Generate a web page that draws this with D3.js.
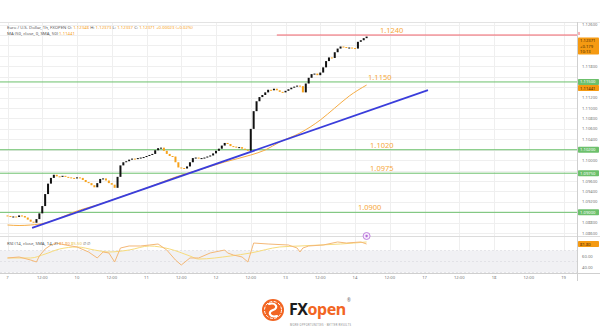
<!DOCTYPE html>
<html>
<head>
<meta charset="utf-8">
<script src="https://cdn.jsdelivr.net/npm/d3@7"></script>
<style>
  body { margin: 0; background: #fff; }
  svg { display: block; font-family: "Noto Sans", sans-serif; }
</style>
</head>
<body>
<svg width="600" height="330"></svg>
<script>
// hourly closes, hour 0 = Jul 7 00:00 (weekend skipped)
const closes = [
  1.0893, 1.0891, 1.0892, 1.0891, 1.0894, 1.0893, 1.0890, 1.0886, 1.0882, 1.0880, 1.0887, 1.0898,
  1.0912, 1.0935, 1.0955, 1.0966, 1.0972, 1.0969, 1.0968, 1.0970, 1.0968, 1.0967, 1.0966, 1.0965,
  1.0967, 1.0966, 1.0962, 1.0958, 1.0956, 1.0952, 1.0948, 1.0956, 1.0964, 1.0965, 1.0961, 1.0956,
  1.0953, 1.0947, 1.0968, 1.0990, 1.0996, 1.0998, 1.1001, 1.1003, 1.1002, 1.1004, 1.1005, 1.1006,
  1.1008, 1.1010, 1.1012, 1.1019, 1.1023, 1.1024, 1.1018, 1.1012, 1.1008, 1.1007, 1.0996, 1.0986,
  1.0985, 1.0984, 1.0988, 1.0996, 1.1004, 1.1005, 1.1003, 1.1004, 1.1005, 1.1007, 1.1009, 1.1013,
  1.1018, 1.1022, 1.1028, 1.1033, 1.1031, 1.1027, 1.1026, 1.1024, 1.1025, 1.1022, 1.1020, 1.1018,
  1.1060, 1.1094, 1.1113, 1.1121, 1.1125, 1.1130, 1.1135, 1.1134, 1.1137, 1.1134, 1.1131, 1.1130,
  1.1133, 1.1136, 1.1139, 1.1141, 1.1143, 1.1142, 1.1130, 1.1147, 1.1158, 1.1165, 1.1166, 1.1163,
  1.1168, 1.1178, 1.1190, 1.1197, 1.1196, 1.1207, 1.1214, 1.1218, 1.1217, 1.1216, 1.1216, 1.1215,
  1.1214, 1.1227, 1.1230, 1.1234, 1.1237
];
const firstOpen = 1.0894;

// SMA 50
const maHours = [0, 4, 8, 13, 18, 23, 32, 40, 49, 58, 66, 75, 84, 89, 94, 101, 108, 113, 118, 124];
const maValues = [1.08757, 1.08747, 1.08757, 1.08795, 1.08891, 1.09006, 1.09159, 1.09313, 1.09485, 1.09677,
  1.09811, 1.09965, 1.10099, 1.10195, 1.10348, 1.10521, 1.10770, 1.11000, 1.11230, 1.11441];

// RSI and its SMA
const rsiHours = [0, 4, 8, 10, 11, 13, 15, 17, 20, 24, 28, 31, 33, 35, 37, 39, 42, 46, 49, 52, 55, 58, 60, 63,
  66, 70, 75, 76, 78, 81, 83, 85, 90, 97, 100, 101, 102, 104, 109, 114, 117, 122, 124];
const rsiValues = [56.4, 58.2, 52.7, 49.1, 60, 72.7, 80, 83.6, 80, 76.4, 67.3, 56.4, 67.3, 65.5, 49.1, 74.5, 78.2,
  78.2, 80, 81.8, 70.9, 52.7, 43.6, 56.4, 56.4, 65.5, 70.9, 65.5, 61.8, 58.2, 49.1, 83.6, 81.8, 80, 74.5, 67.3,
  74.5, 78.2, 80, 85.5, 83.6, 85.5, 81.8];
const rsiSmaHours = [0, 8, 13, 18, 24, 30, 35, 42, 49, 56, 63, 66, 77, 84, 94, 101, 108, 115, 124];
const rsiSmaValues = [56.4, 56.4, 63.6, 72.7, 76.4, 70.9, 67.3, 70.9, 78.2, 72.7, 60, 54.5, 60, 65.5, 76.4, 78.2,
  80, 81.8, 85.5];

// horizontal levels
const levels = [1.1240, 1.1150, 1.1020, 1.0975, 1.0900];
const levelNames = ["1.1240", "1.1150", "1.1020", "1.0975", "1.0900"];
const levelLabelHours = [128.6, 124.5, 125.2, 125.2, 121];

// trendline (hour, price)
const trendHours = [8.5, 145.2];
const trendPrices = [1.0870, 1.11345];

// time axis
const tickHours = d3.range(0, 193, 12);
const tickLabels = ["7", "12:00", "10", "12:00", "11", "12:00", "12", "12:00", "13", "12:00", "14", "12:00",
  "17", "12:00", "18", "12:00", "19"];

const svg = d3.select("svg");
const plotRight = 577;
const priceTop = 22, priceBottom = 236, rsiBottom = 273;

const x = d3.scaleLinear().domain([-2.59, 196.65]).range([0, plotRight]);
const y = d3.scaleLinear().domain([1.08565, 1.12688]).range([235, 20]);
const yr = d3.scaleLinear().domain([40, 60]).range([267, 256]);

const orange = "#f7a21b";
const green = "#6cc06c";
const last = closes.length - 1;
const maLast = maValues[maValues.length - 1];

// grid
const priceTicks = d3.range(1086, 1127, 2).map(v => v / 1000);
svg.append("g").selectAll("line").data(priceTicks).join("line")
  .attr("x1", 0).attr("x2", plotRight)
  .attr("y1", d => Math.round(y(d)) + 0.5).attr("y2", d => Math.round(y(d)) + 0.5)
  .attr("stroke", "#efefef");
svg.append("g").selectAll("line").data(tickHours).join("line")
  .attr("x1", d => Math.round(x(d)) + 0.5).attr("x2", d => Math.round(x(d)) + 0.5)
  .attr("y1", priceTop).attr("y2", rsiBottom)
  .attr("stroke", "#efefef");

// frame lines
svg.append("line").attr("x1", 0).attr("x2", 600).attr("y1", priceTop + 0.5).attr("y2", priceTop + 0.5).attr("stroke", "#e3e3e3");
svg.append("line").attr("x1", 0).attr("x2", 600).attr("y1", priceBottom + 0.5).attr("y2", priceBottom + 0.5).attr("stroke", "#dcdcdc");
svg.append("line").attr("x1", 0).attr("x2", 600).attr("y1", rsiBottom + 0.5).attr("y2", rsiBottom + 0.5).attr("stroke", "#cfcfcf");
svg.append("line").attr("x1", plotRight + 0.5).attr("x2", plotRight + 0.5).attr("y1", priceTop).attr("y2", 281).attr("stroke", "#cfcfcf");

// RSI band 30-70
svg.append("rect").attr("x", 0).attr("width", plotRight)
  .attr("y", yr(70)).attr("height", Math.min(yr(30), rsiBottom) - yr(70))
  .attr("fill", "#f1f1f4");
[70, 50, 30].forEach(v => {
  svg.append("line").attr("x1", 0).attr("x2", plotRight).attr("y1", yr(v)).attr("y2", yr(v))
    .attr("stroke", "#d8d8de").attr("stroke-width", 0.6).attr("stroke-dasharray", "2,2");
});

// levels
const priceG = svg.append("g");
levels.forEach((lv, i) => {
  priceG.append("line")
    .attr("x1", i === 0 ? x(93) : 0).attr("x2", plotRight)
    .attr("y1", y(lv)).attr("y2", y(lv))
    .attr("stroke", i === 0 ? "#f0626a" : green).attr("stroke-width", 1);
  priceG.append("text")
    .attr("x", x(levelLabelHours[i])).attr("y", y(lv) - 2)
    .attr("font-size", 7.5).attr("fill", "#f6a83c")
    .text(levelNames[i]);
});

// moving average
priceG.append("path")
  .attr("d", d3.line().x(d => x(d[0])).y(d => y(d[1])).curve(d3.curveMonotoneX)(d3.zip(maHours, maValues)))
  .attr("fill", "none").attr("stroke", "#f6ad45").attr("stroke-width", 1);

// trendline
priceG.append("line")
  .attr("x1", x(trendHours[0])).attr("y1", y(trendPrices[0]))
  .attr("x2", x(trendHours[1])).attr("y2", y(trendPrices[1]))
  .attr("stroke", "#3a3ddb").attr("stroke-width", 1.8);

// candles
const opens = [firstOpen].concat(closes.slice(0, -1));
priceG.append("g").selectAll("rect").data(closes).join("rect")
  .attr("x", (d, i) => x(i) - 1)
  .attr("y", (d, i) => y(Math.max(d, opens[i])))
  .attr("width", 2)
  .attr("height", (d, i) => Math.max(1, Math.abs(y(d) - y(opens[i]))))
  .attr("fill", (d, i) => d >= opens[i] ? "#111" : orange);

// RSI lines
svg.append("path")
  .attr("d", d3.line().x(d => x(d[0])).y(d => yr(d[1])).curve(d3.curveMonotoneX)(d3.zip(rsiSmaHours, rsiSmaValues)))
  .attr("fill", "none").attr("stroke", "#f7dc7c").attr("stroke-width", 1);
svg.append("path")
  .attr("d", d3.line().x(d => x(d[0])).y(d => yr(d[1]))(d3.zip(rsiHours, rsiValues)))
  .attr("fill", "none").attr("stroke", "#f4b877").attr("stroke-width", 1);

// alert icon
svg.append("circle").attr("cx", x(last)).attr("cy", 236).attr("r", 3.5)
  .attr("fill", "#f6ecfb").attr("stroke", "#b46bd8").attr("stroke-width", 0.8);
svg.append("circle").attr("cx", x(last)).attr("cy", 236).attr("r", 1.2).attr("fill", "#b46bd8");

// right axis tags
const tags = [
  { cy: y(closes[last]) + 4, lines: ["1.12371", "+0.179", "10:13"], fill: "#f59a12", color: "#4a2a00", h: 17 },
  { cy: y(levels[1]), lines: ["1.11500"], fill: green, color: "#fff" },
  { cy: y(maLast) + 3, lines: [d3.format(".5f")(maLast)], fill: "#f59a12", color: "#4a2a00" },
  { cy: y(levels[2]), lines: ["1.10200"], fill: green, color: "#fff" },
  { cy: y(levels[3]), lines: ["1.09750"], fill: green, color: "#fff" },
  { cy: y(levels[4]), lines: ["1.09000"], fill: green, color: "#fff" },
  { cy: yr(rsiValues[rsiValues.length - 1]), lines: [d3.format(".2f")(rsiValues[rsiValues.length - 1])], fill: "#f59a12", color: "#4a2a00" }
];
const covered = ty => tags.some(t => ty > t.cy - 6 && ty < t.cy - 3 + (t.h || 6) + 3);

// right axis labels (skip those under a tag)
svg.append("g").selectAll("text").data(priceTicks.filter(d => !covered(y(d)))).join("text")
  .attr("x", 582).attr("y", d => y(d) + 1.5)
  .attr("font-size", 4.2).attr("fill", "#777")
  .text(d => d3.format(".5f")(d));
[[60, "60.00"], [40, "40.00"]].forEach(([v, t]) => {
  svg.append("text").attr("x", 582).attr("y", yr(v) + 1.5).attr("font-size", 4.2).attr("fill", "#777").text(t);
});

// red line end tick
svg.append("line").attr("x1", 579).attr("x2", 579).attr("y1", y(levels[0]) - 3).attr("y2", y(levels[0]))
  .attr("stroke", "#f0626a").attr("stroke-width", 1);
tags.forEach(t => {
  const g = svg.append("g");
  g.append("rect").attr("x", 578).attr("y", t.cy - 3).attr("width", 21).attr("height", t.h || 6)
    .attr("fill", t.fill).attr("rx", 0.8);
  t.lines.forEach((s, k) => {
    g.append("text").attr("x", 580).attr("y", t.cy + 1.5 + k * 5.5)
      .attr("font-size", 4.2).attr("fill", t.color).text(s);
  });
});

// x axis labels
svg.append("g").selectAll("text").data(tickHours).join("text")
  .attr("x", d => x(d)).attr("y", 278.5)
  .attr("text-anchor", "middle").attr("font-size", 4.2).attr("fill", "#777")
  .text((d, i) => tickLabels[i]);

// legends
const leg1 = svg.append("text").attr("x", 7).attr("y", 29).attr("font-size", 4.3).attr("fill", "#555");
leg1.append("tspan").text("Euro / U.S. Dollar, 1h, FXOPEN  ");
[["O: ", "1.12348"], ["H: ", "1.12373"], ["L: ", "1.12337"], ["C: ", "1.12371"]].forEach(([k, v]) => {
  leg1.append("tspan").text(k);
  leg1.append("tspan").attr("fill", orange).text(v + "  ");
});
leg1.append("tspan").attr("fill", orange).text("+0.00023 (+0.02%)");
const leg2 = svg.append("text").attr("x", 7).attr("y", 35).attr("font-size", 4.3).attr("fill", "#555");
leg2.append("tspan").text("MA (50, close, 0, SMA, 50)  ");
leg2.append("tspan").attr("fill", orange).text(d3.format(".5f")(maLast));

const leg3 = svg.append("text").attr("x", 7).attr("y", 245).attr("font-size", 4.3).attr("fill", "#555");
leg3.append("tspan").text("RSI (14, close, SMA, 14, 2)  ");
leg3.append("tspan").attr("fill", "#f4a04a").text(d3.format(".2f")(rsiValues[rsiValues.length - 1]) + "  ");
leg3.append("tspan").attr("fill", "#e9c548").text(d3.format(".2f")(rsiSmaValues[rsiSmaValues.length - 1]) + "  ");
leg3.append("tspan").text("∅  ∅");

// logo
const logo = svg.append("g");
logo.append("circle").attr("cx", 273).attr("cy", 310).attr("r", 11).attr("fill", "#f26522");
logo.append("circle").attr("cx", 273).attr("cy", 310).attr("r", 8.5).attr("fill", "none")
  .attr("stroke", "#fff").attr("stroke-width", 1).attr("stroke-dasharray", "3,1.5");
logo.append("path").attr("d", "M269,304 C276,302 279,308 273,310 C267,312 270,318 277,316")
  .attr("fill", "none").attr("stroke", "#fff").attr("stroke-width", 2.2).attr("stroke-linecap", "round");
const brand = logo.append("text").attr("x", 289).attr("y", 315).attr("font-size", 16)
  .attr("font-weight", "bold").attr("letter-spacing", -0.5);
brand.append("tspan").attr("fill", "#1c1c1c").text("FX");
brand.append("tspan").attr("fill", "#f26522").text("open");
const brandEnd = 289 + brand.node().getComputedTextLength();
logo.append("text").attr("x", brandEnd + 1.5).attr("y", 302).attr("font-size", 4.5).attr("fill", "#666").text("®");
logo.append("text").attr("x", 290).attr("y", 325.5).attr("font-size", 2.6).attr("fill", "#888")
  .attr("letter-spacing", 0.3).text("MORE OPPORTUNITIES · BETTER RESULTS");
</script>
</body>
</html>
